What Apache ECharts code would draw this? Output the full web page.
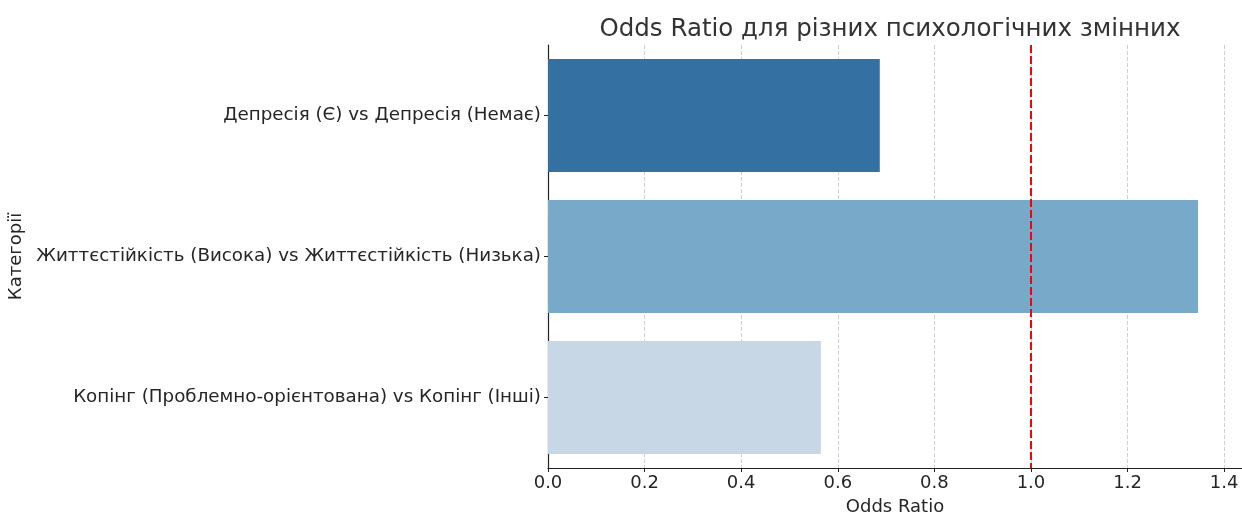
<!DOCTYPE html>
<html>
<head>
<meta charset="utf-8">
<script src="https://cdn.jsdelivr.net/npm/echarts@6/dist/echarts.min.js"></script>
<style>
  html, body { margin: 0; padding: 0; background: #fff; }
  #chart { width: 1242px; height: 514px; }
</style>
</head>
<body>
<div id="chart"></div>
<script>
const categories = [
  'Депресія (Є) vs Депресія (Немає)',
  'Життєстійкість (Висока) vs Життєстійкість (Низька)',
  'Копінг (Проблемно-орієнтована) vs Копінг (Інші)',
];
const oddsRatios = [0.687, 1.346, 0.565];
const barColors = ['#3470a2', '#79a9c8', '#c7d7e6'];
const referenceValue = 1.0;

const font = 'DejaVu Sans';
const textColor = '#262626';

let chartDom = document.getElementById('chart');
let myChart = echarts.init(chartDom);
let option;

option = {
  animation: false,
  textStyle: { fontFamily: font },
  title: {
    text: 'Odds Ratio для різних психологічних змінних',
    left: 885,
    textAlign: 'center',
    top: 12,
    textStyle: { fontFamily: font, fontSize: 24.5, fontWeight: 'normal', color: '#333' },
  },
  grid: { left: 548, right: 0, top: 45, bottom: 46, outerBoundsMode: 'none', containLabel: false },
  xAxis: {
    type: 'value',
    min: 0,
    max: 1.437,
    interval: 0.2,
    name: 'Odds Ratio',
    nameLocation: 'middle',
    nameGap: 30,
    nameTextStyle: { fontFamily: font, fontSize: 18, color: textColor },
    axisLine: { show: true, lineStyle: { color: '#222', width: 1.2 } },
    axisTick: { show: true, length: 4, lineStyle: { color: '#222' } },
    axisLabel: {
      fontFamily: font,
      fontSize: 18,
      color: textColor,
      margin: 6,
      showMaxLabel: false,
      formatter: (v) => v.toFixed(1),
    },
    splitLine: { show: true, lineStyle: { color: '#cfcfcf', type: [4, 2], width: 1 } },
  },
  yAxis: {
    type: 'category',
    inverse: true,
    data: categories,
    name: 'Категорії',
    nameLocation: 'middle',
    nameGap: 510,
    nameRotate: 90,
    nameTextStyle: { fontFamily: font, fontSize: 18, color: textColor },
    axisLine: { show: true, lineStyle: { color: '#222', width: 1.2 } },
    axisTick: { show: true, alignWithLabel: true, length: 4, lineStyle: { color: '#222' } },
    axisLabel: { fontFamily: font, fontSize: 18.3, color: textColor, margin: 7 },
    splitLine: { show: false },
  },
  series: [
    {
      type: 'bar',
      barWidth: '80%',
      data: oddsRatios.map((v, i) => ({ value: v, itemStyle: { color: barColors[i] } })),
      markLine: {
        silent: true,
        symbol: 'none',
        label: { show: false },
        lineStyle: { color: '#ff0000', width: 2, type: [8, 3] },
        data: [{ xAxis: referenceValue }],
      },
    },
  ],
};

option && myChart.setOption(option);
</script>
</body>
</html>
